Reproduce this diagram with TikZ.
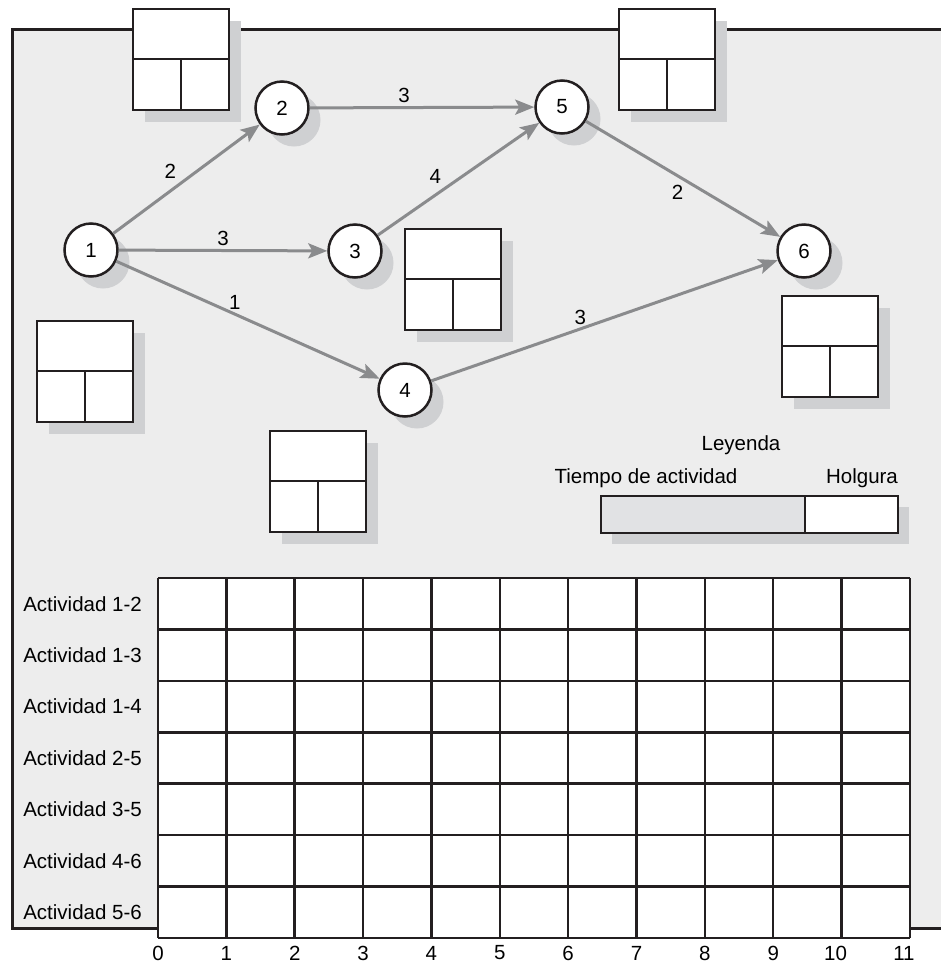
\documentclass[tikz,border=0pt]{standalone}
\usepackage{fontspec}
\setmainfont{Liberation Sans}
\usetikzlibrary{arrows.meta,shadows}
\definecolor{panelgray}{HTML}{EDEDED}
\definecolor{shadowgray}{HTML}{CFD0D2}
\definecolor{arrowgray}{HTML}{8A8B8D}
\definecolor{legendgray}{HTML}{E1E2E4}
\definecolor{inkblack}{HTML}{231F20}
\tikzset{
  event/.style={circle,draw=inkblack,line width=2.5pt,fill=white,minimum size=53pt,inner sep=0pt,
    drop shadow={shadow xshift=12pt,shadow yshift=-12pt,fill=shadowgray,opacity=1}},
  activity/.style={draw=arrowgray,line width=3pt,-{Stealth[length=19pt,width=15pt,inset=4pt]}},
  dur/.style={inner sep=3pt},
  boxline/.style={draw=inkblack,line width=2.5pt},
  gridline/.style={draw=inkblack,line width=2.5pt},
  rowlabel/.style={anchor=east,inner sep=0pt},
}

\begin{document}
\begin{tikzpicture}[x=1pt,y=-1pt,font=\fontsize{20.5}{24}\selectfont]
			\useasboundingbox (0,0) rectangle (941,970);
			\fill[panelgray] (12,29) rectangle (941,928);
			\draw[line width=3pt,inkblack] (941,29) -- (12,29) -- (12,928) -- (941,928);
			\foreach \bx/\by in {133/9,619/9,405/229,37/321,270/431,782/296}{
				\fill[shadowgray] (\bx+12,\by+12) rectangle ++(96,101);
				\draw[boxline,fill=white] (\bx,\by) rectangle ++(96,101);
				\draw[boxline] (\bx,\by+50) -- ++(96,0) (\bx+48,\by+50) -- ++(0,51);
			}
			\node[event] (n1) at (91,250) {1};
			\node[event] (n2) at (282,108) {2};
			\node[event] (n3) at (355,251) {3};
			\node[event] (n4) at (405,390) {4};
			\node[event] (n5) at (562,107) {5};
			\node[event] (n6) at (804,251) {6};
			\draw[activity] (n1) -- node[dur,pos=.46,anchor=south east]{2} (n2);
			\draw[activity] (n1) -- node[dur,midway,above]{3} (n3);
			\draw[activity] (n1) -- node[dur,pos=.45,above]{1} (n4);
			\draw[activity] (n2) -- node[dur,pos=.42,above]{3} (n5);
			\draw[activity] (n3) -- node[dur,pos=.42,anchor=south east]{4} (n5);
			\draw[activity] (n5) -- node[dur,pos=.52,anchor=north east,inner sep=2pt]{2} (n6);
			\draw[activity] (n4) -- node[dur,pos=.43,above]{3} (n6);
			\node (leyenda) at (741,445) {Leyenda};
			\node (tiempo) at (646,478) {Tiempo de actividad};
			\node (holgura) at (862,478) {Holgura};
			\fill[shadowgray] (612,507) rectangle (909,544);
			\draw[boxline,fill=legendgray] (601,496) rectangle (805,533);
			\draw[boxline,fill=white] (805,496) rectangle (898,533);
			\fill[white] (158,578) rectangle (910,938);
			\foreach \i in {0,...,11}{
				\draw[gridline] (158+\i*68.36,578) -- (158+\i*68.36,938);
				\node (t\i) at ({158+\i*68.36-6*(\i>9)},953) {\i};
			}
			\foreach \j in {0,...,7} \draw[gridline] (158,578+\j*51.43) -- (910,578+\j*51.43);
			\foreach \a [count=\k from 0] in {1-2,1-3,1-4,2-5,3-5,4-6,5-6}
				\node[rowlabel] (r\k) at (142,603.7+\k*51.43) {Actividad \a};
		\end{tikzpicture}
\end{document}
